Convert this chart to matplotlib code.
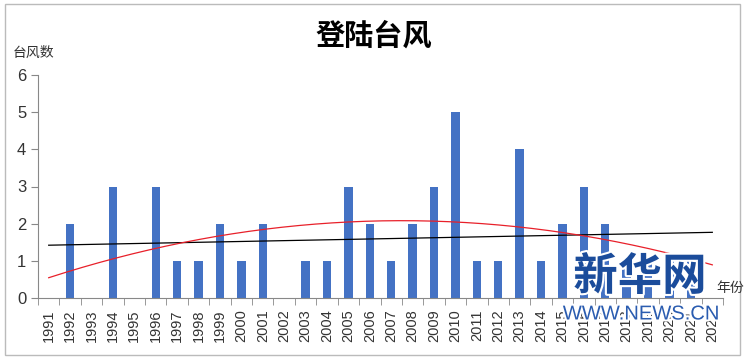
import numpy as np
import matplotlib
matplotlib.use("Agg")
import matplotlib.pyplot as plt
import matplotlib.patheffects as pe
from matplotlib.patches import Rectangle

plt.rcParams['font.family'] = ['Noto Sans CJK SC', 'DejaVu Sans']

years = list(range(1991, 2023))
counts = [0, 2, 0, 3, 0, 3, 1, 1, 2, 1, 2, 0, 1, 1, 3, 2,
          1, 2, 3, 5, 1, 1, 4, 1, 2, 3, 2, 1, 1, 1, 1, 0]
year_labels = [str(y) for y in years]

x = np.arange(len(years))
y = np.array(counts, dtype=float)

# trend lines: linear (black) and 2nd order polynomial (red)
lin = np.polyfit(x, y, 1)
quad = np.polyfit(x, y, 2)
xs = np.linspace(0, len(years) - 1, 200)

fig = plt.figure(figsize=(7.45, 3.59), dpi=100)
ax = fig.add_axes([38 / 745, 1 - 298 / 359, (723 - 38) / 745, (298 - 75) / 359])

ax.bar(x, y, width=0.39, color='#4472C4', zorder=2)
ax.plot(xs, np.polyval(lin, xs), color='black', lw=0.9, zorder=3)
ax.plot(xs, np.polyval(quad, xs), color='#E8202A', lw=0.9, zorder=3)

ax.set_xlim(-0.5, len(years) - 0.5)
ax.set_ylim(0, 6)
ax.set_yticks(range(0, 7))
ax.set_xticks(x)
ax.set_xticklabels(year_labels, rotation=90, fontsize=10.5,
                   family=['Liberation Sans', 'DejaVu Sans'], color='#333333')
ax.tick_params(axis='x', length=0, pad=8)
ax.tick_params(axis='y', labelsize=12, length=5, color='#888888', labelcolor='#333333')
for lbl in ax.get_yticklabels():
    lbl.set_family(['Liberation Sans', 'DejaVu Sans'])
# category boundary tick marks on x axis
ax.set_xticks(np.arange(-0.5, len(years), 1), minor=True)
ax.tick_params(axis='x', which='minor', length=5, color='#888888', direction='out')

for s in ['top', 'right']:
    ax.spines[s].set_visible(False)
ax.spines['left'].set_color('#888888')
ax.spines['bottom'].set_color('#888888')

fig.text(0.502, 1 - 36 / 359, '登陆台风', ha='center', va='center', fontsize=21, fontweight='bold')
fig.text(13 / 745, 1 - 53 / 359, '台风数', ha='left', va='center', fontsize=10, color='#333333')
fig.text(716 / 745, 1 - 288 / 359, '年份', ha='left', va='center', fontsize=10, color='#333333')

# watermark
wm = [pe.withStroke(linewidth=3, foreground='white')]
fig.text(640 / 745, 1 - 277 / 359, '新华网', ha='center', va='center', fontsize=32,
         fontweight='heavy', color='#1B4C9B', path_effects=wm, zorder=10)
fig.text(641 / 745, 1 - 314 / 359, 'WWW.NEWS.CN', ha='center', va='center', fontsize=14.5,
         family=['Liberation Sans', 'DejaVu Sans'], color='#2A5CB0', path_effects=wm, zorder=10)

fig.patches.append(Rectangle((5 / 745, 4 / 359), 735 / 745, 351 / 359, transform=fig.transFigure,
                             fill=False, edgecolor='#BBBBBB', lw=1))

fig.savefig('out.png', dpi=100)
